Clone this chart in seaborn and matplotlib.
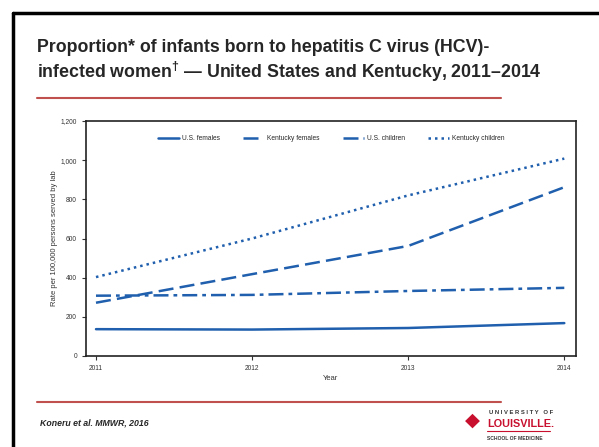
import seaborn as sns
import matplotlib.pyplot as plt
import pandas as pd
from matplotlib.lines import Line2D

# data
years = [2011, 2012, 2013, 2014]
us_females = [137, 135, 143, 168]
ky_females = [272, 418, 562, 862]
us_children = [308, 312, 332, 348]
ky_children = [403, 600, 820, 1008]
series_names = ['U.S. females', 'Kentucky females', 'U.S. children', 'Kentucky children']

df = pd.DataFrame({
    'Year': years * 4,
    'Rate': us_females + ky_females + us_children + ky_children,
    'Group': [n for n in series_names for _ in years],
})

sns.set_theme(style='white')
plt.rcParams['font.family'] = ['Liberation Sans', 'DejaVu Sans']
plt.rcParams['mathtext.fontset'] = 'custom'
plt.rcParams['mathtext.rm'] = 'Liberation Sans:bold'
plt.rcParams['mathtext.bf'] = 'Liberation Sans:bold'

blue = '#1f5fad'
dash_map = {
    'U.S. females': '',
    'Kentucky females': (6, 2.5),
    'U.S. children': (6, 2, 1.5, 2),
    'Kentucky children': (1, 1.6),
}

fig = plt.figure(figsize=(5.99, 4.47), dpi=100)
fig.patch.set_facecolor('white')

# slide frame + red rules
fig.add_artist(Line2D([13/599, 13/599], [0, 1 - 13/447], color='black', lw=2.5))
fig.add_artist(Line2D([13/599, 1], [1 - 13/447, 1 - 13/447], color='black', lw=2.5))
fig.add_artist(Line2D([37/599, 501/599], [1 - 98/447, 1 - 98/447], color='#c0504d', lw=1.5))
fig.add_artist(Line2D([37/599, 501/599], [1 - 402/447, 1 - 402/447], color='#c0504d', lw=1.5))

fig.text(37/599, 1 - 48/447, 'Proportion* of infants born to hepatitis C virus (HCV)-',
         fontsize=12.8, fontweight='bold', va='center', ha='left')
fig.text(37/599, 1 - 72/447, 'infected women$^{\\mathrm{\u2020}}$ \u2014 United States and Kentucky, 2011\u20132014',
         fontsize=12.8, fontweight='bold', va='center', ha='left')
fig.text(40/599, 1 - 423/447, 'Koneru et al. MMWR, 2016', fontsize=6.3,
         fontweight='bold', style='italic', va='center')

# logo as text
fig.text(489/599, 1 - 413/447, 'U N I V E R S I T Y   O F', fontsize=4.2,
         fontweight='bold', color='#333333', va='center')
fig.text(487/599, 1 - 424/447, 'LOUISVILLE.', fontsize=7.8, fontweight='bold',
         color='#c8102e', va='center')
fig.add_artist(Line2D([487/599, 550/599], [1 - 431/447, 1 - 431/447], color='#c8102e', lw=0.8))
fig.text(487/599, 1 - 439/447, 'SCHOOL OF MEDICINE', fontsize=3.6,
         fontweight='bold', color='#333333', va='center')
fig.text(472/599, 1 - 421/447, '\u25c6', fontsize=14, color='#c8102e',
         va='center', ha='center')

ax = fig.add_axes([86/599, 1 - 356/447, (576 - 86)/599, (356 - 121)/447])
sns.lineplot(data=df, x='Year', y='Rate', hue='Group', style='Group',
             palette=[blue] * 4, dashes=dash_map, linewidth=1.8, ax=ax, legend=False)

ax.set_xlim(2010.936, 2014.075)
ax.set_ylim(0, 1200)
ax.set_xticks(years)
ax.set_xticklabels([str(y) for y in years])
ax.set_yticks(range(0, 1201, 200))
ax.set_yticklabels([f'{v:,}' for v in range(0, 1201, 200)])
ax.tick_params(axis='both', labelsize=4.8, length=3, width=0.8, colors='#333333',
               bottom=True, left=True)
ax.set_xlabel('Year', fontsize=5.5, color='#333333')
ax.xaxis.set_label_coords(0.5, -0.08)
ax.set_ylabel('Rate per 100,000 persons served by lab', fontsize=5.5, color='#333333')
ax.yaxis.set_label_coords(-0.058, 0.5)
for s in ax.spines.values():
    s.set_color('#222222')
    s.set_linewidth(1.2)

handles = [Line2D([0], [0], color=blue, lw=1.8, linestyle='-' if dash_map[n] == '' else (0, dash_map[n]))
           for n in series_names]
ax.legend(handles, series_names, loc='upper center', bbox_to_anchor=(0.5, 0.965), ncol=4,
          frameon=False, fontsize=4.8, handlelength=3.2, columnspacing=3.5, handletextpad=0.4)

fig.savefig('out.png', dpi=100)
